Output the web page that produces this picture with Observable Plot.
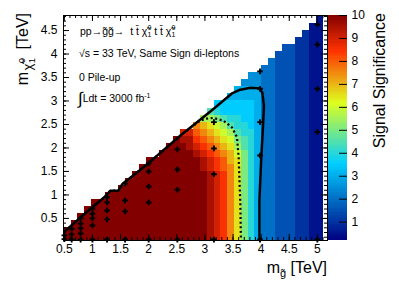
<!DOCTYPE html>
<html><head><meta charset="utf-8">
<script src="https://cdn.jsdelivr.net/npm/d3@7"></script>
<script src="https://cdn.jsdelivr.net/npm/@observablehq/plot@0.6"></script>
<style>
html,body{margin:0;padding:0;background:#fff;}
#chart{position:relative;width:399px;height:286px;overflow:hidden;font-family:"Liberation Sans",Arial,Helvetica,sans-serif;}
#chart svg{position:absolute;top:0;}
</style></head><body><div id="chart"></div>
<script>
// ---------- data ----------
const gluinoBinStart = 0.5;          // TeV, first bin edge
const gluinoBinWidth = 4.6 / 38;     // 38 columns up to 5.1 TeV
const neutralinoBinStart = 0.0;
const neutralinoBinWidth = 0.15;     // 32 rows up to 4.8 TeV
// one char per cell: index in significanceCodes * 0.5 ; "X" = above colour-scale maximum
const significanceCodes = "0123456789ABCDEFGHIJK";
const saturatedSignificance = 12;
// each string: one gluino-mass column, cells from the lowest neutralino mass upwards
const significanceColumns = [
  "XX",
  "XXX",
  "XXXX",
  "XXXXX",
  "XXXXXX",
  "XXXXXX",
  "XXXXXXX",
  "XXXXXXX",
  "XXXXXXXX",
  "XXXXXXXXX",
  "XXXXXXXXXX",
  "XXXXXXXXXXX",
  "XXXXXXXXXXXX",
  "XXXXXXXXXXXX",
  "XXXXXXXXXXXXX",
  "XXXXXXXXXXXXXX",
  "XXXXXXXXXXXXXXK",
  "XXXXXXXXXXXXXKJI",
  "XXXXXXXXXXXXKJJI",
  "XXXXXXXXXXKKJIHGF",
  "XXXXXXXXKKJJIHGFEB",
  "JJJJJJJJJJIIHGFEDB9",
  "IIIIIIIIIIHHGFEDCA87",
  "HHHHHHHHHHGGFEDCB977",
  "FFFFFFFFFFFEEDCB98776",
  "DDDDDDDDDDDDCBA9887766",
  "AAAAAAAAAAAAA9988777665",
  "888888888888888877776655",
  "666666666666666666666655",
  "4444444444444444444444444",
  "44444444444444444444444444",
  "333333333333333333333333333",
  "3333333333333333333333333333",
  "3333333333333333333333333333",
  "22222222222222222222222222222",
  "222222222222222222222222222222",
  "1111111111111111111111111111111",
  "11111111111111111111111111111111"
];
// contour lines
const solidContourGluino     = [0.5, 0.96, 1.2, 1.32, 1.46, 1.53, 1.97, 2.56, 3.13, 3.48, 3.63, 3.81, 3.96, 4.02, 4.05, 4.03, 4.0, 3.97, 3.97];
const solidContourNeutralino = [0.22, 0.70, 0.94, 1.09, 1.09, 1.23, 1.65, 2.26, 2.81, 3.16, 3.24, 3.28, 3.27, 3.18, 2.9, 2.4, 1.75, 0.9, 0.0];
const dottedContourGluino     = [0.5, 0.96, 1.2, 1.32, 1.46, 1.53, 1.97, 2.56, 2.9, 3.0, 3.15, 3.33, 3.48, 3.57, 3.6, 3.63, 3.64];
const dottedContourNeutralino = [0.22, 0.70, 0.94, 1.09, 1.09, 1.23, 1.65, 2.26, 2.57, 2.62, 2.64, 2.58, 2.44, 2.23, 1.8, 0.8, 0.0];
// simulated signal points
const pointGluino = [0.5,0.5, 0.63,0.63,0.63, 0.79,0.79,0.79,0.79,0.79, 1.0,1.0,1.0,1.0,1.0, 1.26,1.26,1.26,1.26,1.26, 1.58,1.58,1.58,1.58, 2.0,2.0,2.0,2.0,2.0, 2.51,2.51,2.51,2.51, 3.16,3.16,3.16,3.16, 3.98,3.98,3.98,3.98,3.98, 5.0,5.0,5.0,5.0,5.0];
const pointNeutralino = [0.06,0.14, 0.05,0.16,0.28, 0.05,0.18,0.29,0.39,0.5, 0.05,0.35,0.5,0.6,0.71, 0.05,0.48,0.67,0.84,0.95, 0.05,0.65,0.88,1.24, 0.05,0.84,1.18,1.5,1.67, 0.05,1.11,1.54,1.97, 0.05,1.44,1.99,2.55, 0.05,1.84,2.55,3.26,3.63, 0.05,2.34,3.26,4.2,4.63];
// axes
const xTickLabels = [0.5, 1, 1.5, 2, 2.5, 3, 3.5, 4, 4.5, 5];
const yTickLabels = [0.5, 1, 1.5, 2, 2.5, 3, 3.5, 4, 4.5];
const paletteTickLabels = [1, 2, 3, 4, 5, 6, 7, 8, 9, 10];
const xDomain = [0.485, 5.18];
const yDomain = [0.03, 4.82];
const zDomain = [0.2, 10];
// colour palette (stops / colours)
const paletteStops = [0, 0.34, 0.61, 0.84, 1];
const paletteColors = ["rgb(0,0,130)", "rgb(0,207,255)", "rgb(222,255,31)", "rgb(255,51,0)", "rgb(130,0,0)"];

// ---------- build tables ----------
const cells = [];
significanceColumns.forEach((col, i) => {
  [...col].forEach((ch, j) => {
    const v = ch === "X" ? saturatedSignificance : significanceCodes.indexOf(ch) * 0.5;
    cells.push({
      x1: gluinoBinStart + i * gluinoBinWidth, x2: gluinoBinStart + (i + 1) * gluinoBinWidth,
      y1: neutralinoBinStart + j * neutralinoBinWidth, y2: neutralinoBinStart + (j + 1) * neutralinoBinWidth, v
    });
  });
});
const solid = solidContourGluino.map((x, k) => ({x, y: solidContourNeutralino[k]}));
const dotted = dottedContourGluino.map((x, k) => ({x, y: dottedContourNeutralino[k]}));
const points = pointGluino.map((x, k) => ({x, y: pointNeutralino[k]}));
const xMinor = d3.range(5, 52).map(d => d / 10);
const yMinor = d3.range(1, 49).map(d => d / 10);

const pal = d3.scaleLinear().domain(paletteStops).range(paletteColors).interpolate(d3.interpolateRgb).clamp(true);
const colorScale = {type: "linear", domain: zDomain, interpolate: t => pal(t), clamp: true};

const W = 399, H = 286, mL = 63, mR = 72, mT = 15, mB = 46;
const innerW = W - mL - mR, innerH = H - mT - mB;
const font = '"Liberation Sans", Arial, Helvetica, sans-serif';

const main = Plot.plot({
  width: W, height: H, marginLeft: mL, marginRight: mR, marginTop: mT, marginBottom: mB,
  style: {fontFamily: font, fontSize: "12px", background: "transparent", color: "black"},
  x: {domain: xDomain},
  y: {domain: yDomain},
  color: colorScale,
  marks: [
    Plot.rect(cells, {x1: "x1", x2: "x2", y1: "y1", y2: "y2", fill: "v", clip: true, shapeRendering: "crispEdges"}),
    Plot.line(dotted, {x: "x", y: "y", stroke: "black", strokeWidth: 2.2, strokeDasharray: "2,2.6", strokeLinecap: "butt", clip: true}),
    Plot.line(solid, {x: "x", y: "y", stroke: "black", strokeWidth: 2.5, strokeLinejoin: "round", clip: true}),
    Plot.dot(points, {x: "x", y: "y", symbol: "cross", r: 2.4, fill: "black", stroke: "none"}),
    Plot.frame({stroke: "black", strokeWidth: 1}),
    // inward ticks, bottom & top
    Plot.ruleX(xMinor, {x: d => d, insetTop: innerH - 3, stroke: "black"}),
    Plot.ruleX(xTickLabels, {x: d => d, insetTop: innerH - 6, stroke: "black"}),
    Plot.ruleX(xMinor, {x: d => d, insetBottom: innerH - 3, stroke: "black"}),
    Plot.ruleX(xTickLabels, {x: d => d, insetBottom: innerH - 6, stroke: "black"}),
    // inward ticks, left & right
    Plot.ruleY(yMinor, {y: d => d, insetRight: innerW - 3, stroke: "black"}),
    Plot.ruleY(yTickLabels, {y: d => d, insetRight: innerW - 6, stroke: "black"}),
    Plot.ruleY(yMinor, {y: d => d, insetLeft: innerW - 3, stroke: "black"}),
    Plot.ruleY(yTickLabels, {y: d => d, insetLeft: innerW - 6, stroke: "black"}),
    Plot.axisX({ticks: xTickLabels, tickSize: 0, tickPadding: 4, tickFormat: d => String(d), label: null, fontSize: 12}),
    Plot.axisY({ticks: yTickLabels, tickSize: 0, tickPadding: 6, tickFormat: d => String(d), label: null, fontSize: 12})
  ]
});

const bands = d3.range(0, 98).map(k => ({lo: 0.2 + k * 0.1, hi: 0.2 + (k + 1) * 0.1, mid: 0.25 + k * 0.1}));
const barW = 19;
const bar = Plot.plot({
  width: barW + 41, height: H, marginLeft: 0, marginRight: 41, marginTop: mT, marginBottom: mB,
  style: {fontFamily: font, fontSize: "12px", background: "transparent", color: "black"},
  x: {domain: [0, 1], axis: null},
  y: {domain: zDomain, axis: null},
  color: colorScale,
  marks: [
    Plot.rect(bands, {x1: 0, x2: 1, y1: "lo", y2: "hi", fill: "mid", shapeRendering: "crispEdges"}),
    Plot.ruleY(paletteTickLabels, {y: d => d, insetLeft: barW - 8, stroke: "black"}),
    Plot.axisY({anchor: "right", ticks: paletteTickLabels, tickSize: 0, tickPadding: 4, tickFormat: d => String(d), label: null, fontSize: 12})
  ]
});

const chart = document.getElementById("chart");
chart.appendChild(main);
bar.style.left = "328px";
chart.appendChild(bar);
main.style.left = "0px";

// ---------- titles and annotations ----------
const svg = d3.select(main);
const g = svg.append("g").attr("font-family", font).attr("fill", "black").attr("text-anchor", "start");

// y-axis title
const yt = g.append("text").attr("transform", "translate(28,13) rotate(-90)").attr("text-anchor", "end").attr("font-size", 16);
yt.append("tspan").text("m");
yt.append("tspan").attr("font-size", 13).attr("dx", 1.5).attr("dy", 4).text("χ̃");
yt.append("tspan").attr("font-size", 9.5).attr("dx", 0.5).attr("dy", 3).text("1");
yt.append("tspan").attr("font-size", 9.5).attr("dx", -5.3).attr("dy", -10).text("0");
yt.append("tspan").attr("font-size", 16).attr("dx", 4).attr("dy", 3).text(" [TeV]");

// x-axis title
const xt = g.append("text").attr("x", 327).attr("y", 273).attr("text-anchor", "end").attr("font-size", 16);
xt.append("tspan").text("m");
xt.append("tspan").attr("font-size", 11).attr("dy", 4).text("g̃");
xt.append("tspan").attr("font-size", 16).attr("dy", -4).text(" [TeV]");

// palette title
g.append("text").attr("transform", "translate(385,13) rotate(-90)").attr("text-anchor", "end").attr("font-size", 16).text("Signal Significance");

// annotations
const a1 = g.append("text").attr("x", 80).attr("y", 34.5).attr("font-size", 10.5).attr("text-anchor", "start");
a1.append("tspan").text("pp→g̃g̃→  t t̄ χ̃");
a1.append("tspan").attr("font-size", 7).attr("dy", 2.5).text("1");
a1.append("tspan").attr("font-size", 7).attr("dx", -3.9).attr("dy", -7).text("0");
a1.append("tspan").attr("dy", 4.5).text(" t t̄ χ̃");
a1.append("tspan").attr("font-size", 7).attr("dy", 2.5).text("1");
a1.append("tspan").attr("font-size", 7).attr("dx", -3.9).attr("dy", -7).text("0");

g.append("text").attr("x", 79).attr("y", 56.7).attr("font-size", 10.5).attr("text-anchor", "start").text("√s = 33 TeV, Same Sign di-leptons");
g.append("text").attr("x", 79).attr("y", 80.5).attr("font-size", 10.5).attr("text-anchor", "start").text("0 Pile-up");
const a4 = g.append("text").attr("x", 78).attr("y", 102.3).attr("font-size", 10.5).attr("text-anchor", "start");
a4.append("tspan").attr("font-size", 17).attr("dy", 2).text("∫");
a4.append("tspan").attr("dy", -2).text("Ldt = 3000 fb");
a4.append("tspan").attr("font-size", 7).attr("dy", -4).text("-1");
</script>
</body></html>
